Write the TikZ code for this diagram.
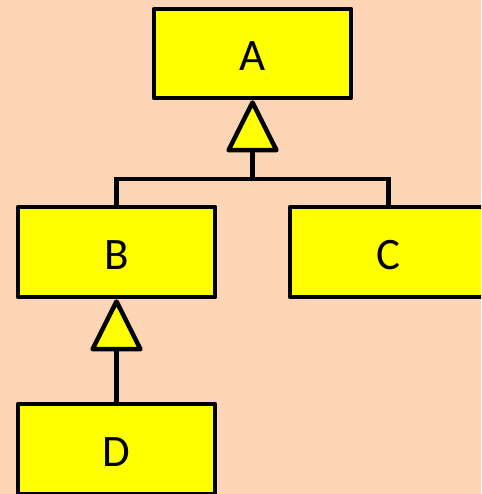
\documentclass[tikz,border=0pt]{standalone}
\usepackage{fontspec}
\setmainfont{Carlito}
\usetikzlibrary{arrows.meta}
\definecolor{peach}{HTML}{FBD5B5}
\definecolor{boxyellow}{HTML}{FFFF00}
\begin{document}
\begin{tikzpicture}[x=1pt,y=-1pt,
  cls/.style={draw=black,fill=boxyellow,line width=4.5pt,minimum width=197pt,minimum height=90pt,inner sep=0pt,font=\fontsize{45}{48}\selectfont,line join=round,text depth=0pt,text height=35pt},
  conn/.style={line width=4.5pt},
  inherit/.style={line width=4.5pt,-{Triangle[length=55pt,width=54pt,fill=boxyellow,line join=round]}}]
\fill[peach] (0,0) rectangle (481,494);
\useasboundingbox (0,0) rectangle (481,494);
\clip (0,0) rectangle (481,494);
\node[cls,minimum height=89pt] (A) at (252.5,53.5) {A};
\node[cls] (B) at (116.5,252) {B};
\node[cls] (C) at (388.5,252) {C};
\node[cls] (D) at (116.5,449) {D};
\coordinate (jA) at (252.5,179);
\draw[conn] (B.north) |- (jA);
\draw[conn] (C.north) |- (jA);
\draw[inherit] (jA) -- (A.south);
\draw[inherit] (D.north) -- (B.south);
\end{tikzpicture}
\end{document}
